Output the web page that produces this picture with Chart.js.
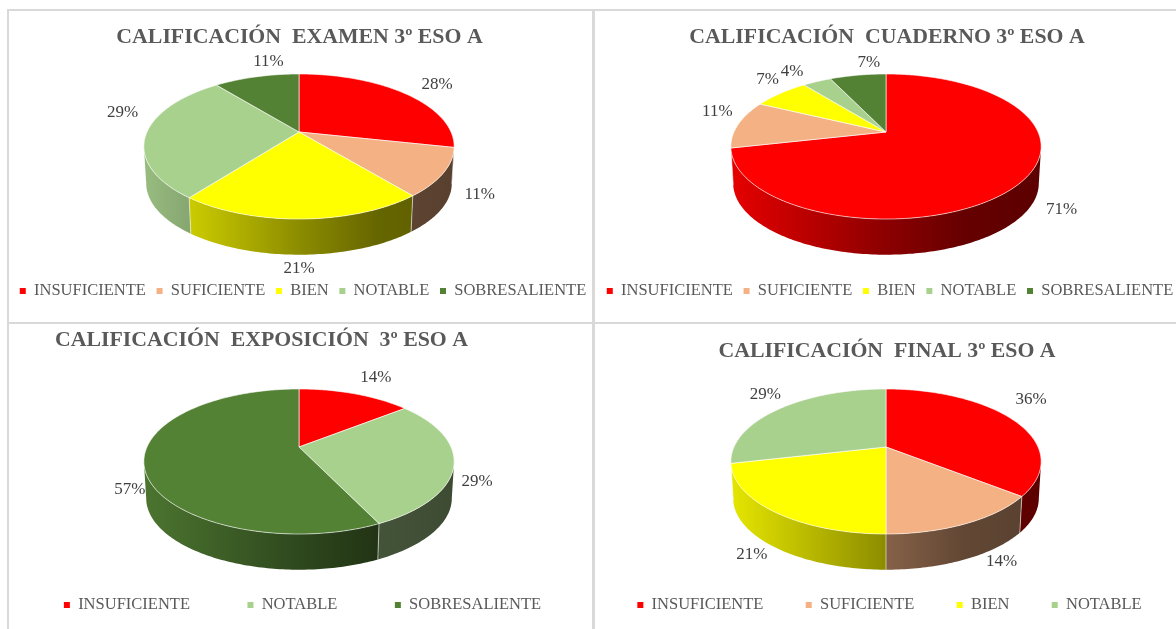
<!DOCTYPE html>
<html>
<head>
<meta charset="utf-8">
<title>Calificación 3º ESO A</title>
<script src="https://cdn.jsdelivr.net/npm/chart.js@4"></script>
<style>
  html, body { margin: 0; padding: 0; background: #fff; overflow: hidden; }
  body { width: 1176px; height: 629px; position: relative; }
  .panel { position: absolute; box-shadow: 0 0 0 2px #d9d9d9; background: #fff; overflow: hidden; }
  canvas { display: block; filter: blur(0.35px); }
</style>
</head>
<body>
<div class="panel" style="left:9px;top:11px;width:583px;height:311px"><canvas id="examen" width="660" height="311"></canvas></div>
<div class="panel" style="left:595px;top:11px;width:581px;height:311px"><canvas id="cuaderno" width="660" height="311"></canvas></div>
<div class="panel" style="left:9px;top:324px;width:583px;height:305px"><canvas id="exposicion" width="660" height="305"></canvas></div>
<div class="panel" style="left:595px;top:324px;width:581px;height:305px"><canvas id="final" width="660" height="305"></canvas></div>
<script>
// ---------- Data ----------
const examenLabels = ['INSUFICIENTE', 'SUFICIENTE', 'BIEN', 'NOTABLE', 'SOBRESALIENTE'];
const examenValues = [28.4, 10.7, 21.3, 28.8, 10.8];
const cuadernoLabels = ['INSUFICIENTE', 'SUFICIENTE', 'BIEN', 'NOTABLE', 'SOBRESALIENTE'];
const cuadernoValues = [71.4, 10.7, 7.1, 3.6, 7.1];
const exposicionLabels = ['INSUFICIENTE', 'NOTABLE', 'SOBRESALIENTE'];
const exposicionValues = [14.3, 28.6, 57.1];
const finalLabels = ['INSUFICIENTE', 'SUFICIENTE', 'BIEN', 'NOTABLE'];
const finalValues = [35.7, 14.3, 21.4, 28.6];

const gradeColors = {
  INSUFICIENTE: '#ff0000',
  SUFICIENTE: '#f4b183',
  BIEN: '#ffff00',
  NOTABLE: '#a9d18e',
  SOBRESALIENTE: '#548235'
};

// ---------- Pie look ----------
const FONT = '"Liberation Serif", serif';
const LEGEND_SIZE = 16.5;
const SQUASH = 0.458;      // height of the disc against its width
const TILT = 0.2;          // perspective, near edge looks bigger
const DEPTH = 37;
const WALL_SHRINK = 0.985;

// wall shading, left to right over the whole pie
const wallStops = [[0, 0.9], [0.5, 0.55], [0.75, 0.4], [1, 0.36]];

function shade(hex, k) {
  const n = parseInt(hex.slice(1), 16);
  const r = Math.round((n >> 16 & 255) * k);
  const g = Math.round((n >> 8 & 255) * k);
  const b = Math.round((n & 255) * k);
  return `rgb(${r},${g},${b})`;
}

// angle on the flat pie -> point on the tilted disc
function rim(arc, a) {
  const den = 1 - TILT * Math.sin(a);
  return {
    x: arc.x + arc.outerRadius * Math.cos(a) / den,
    y: arc.y + arc.outerRadius * SQUASH * Math.sin(a) / den
  };
}

function wallPoint(arc, a) {
  const p = rim(arc, a);
  return {
    x: arc.x + (p.x - arc.x) * WALL_SHRINK,
    y: arc.y + (p.y - arc.y) * WALL_SHRINK + DEPTH
  };
}

function drawWall(ctx, arc) {
  const edge = Math.asin(TILT);
  const from = Math.max(arc.startAngle, edge);
  const to = Math.min(arc.endAngle, Math.PI - edge);
  if (to <= from) return;
  const color = arc.options.backgroundColor;
  const span = arc.outerRadius * 1.02;
  const grad = ctx.createLinearGradient(arc.x - span, 0, arc.x + span, 0);
  wallStops.forEach(s => grad.addColorStop(s[0], shade(color, s[1])));

  const steps = Math.ceil((to - from) * 60);
  ctx.beginPath();
  for (let i = 0; i <= steps; i++) {
    const p = rim(arc, from + (to - from) * i / steps);
    if (i === 0) ctx.moveTo(p.x, p.y); else ctx.lineTo(p.x, p.y);
  }
  for (let i = steps; i >= 0; i--) {
    const p = wallPoint(arc, from + (to - from) * i / steps);
    ctx.lineTo(p.x, p.y);
  }
  ctx.closePath();
  ctx.fillStyle = grad;
  ctx.fill();
  ctx.strokeStyle = 'rgba(255,255,255,0.55)';
  ctx.lineWidth = 1;
  ctx.beginPath();
  if (arc.startAngle > edge) {
    const a = rim(arc, from), b = wallPoint(arc, from);
    ctx.moveTo(a.x, a.y); ctx.lineTo(b.x, b.y);
  }
  ctx.stroke();
}

function drawTop(ctx, arc) {
  const steps = Math.ceil((arc.endAngle - arc.startAngle) * 60);
  ctx.beginPath();
  ctx.moveTo(arc.x, arc.y);
  for (let i = 0; i <= steps; i++) {
    const p = rim(arc, arc.startAngle + (arc.endAngle - arc.startAngle) * i / steps);
    ctx.lineTo(p.x, p.y);
  }
  ctx.closePath();
  ctx.fillStyle = arc.options.backgroundColor;
  ctx.fill();
  ctx.strokeStyle = 'rgba(255,255,255,0.6)';
  ctx.lineWidth = 1;
  ctx.stroke();
}

// ---------- Plugins ----------
const tiltedPie = {
  id: 'tiltedPie',
  afterLayout(chart) {
    const o = chart.options.plugins.tiltedPie;
    // pie centre
    chart.chartArea.left = o.apex[0] - 100;
    chart.chartArea.right = o.apex[0] + 100;
    chart.chartArea.top = o.apex[1] - 100;
    chart.chartArea.bottom = o.apex[1] + 100;
    // title
    const t = chart.titleBlock;
    const tMid = (t.left + t.right) / 2;
    t.left += o.titleAt[0] - tMid;
    t.right += o.titleAt[0] - tMid;
    t.top = o.titleAt[1] - chart.options.plugins.title.font.size * 0.6;
    // legend
    const l = chart.legend;
    const lMid = (l.left + l.right) / 2;
    l.left += o.legendAt[0] - lMid;
    l.right += o.legendAt[0] - lMid;
    l.top = o.legendAt[1] - chart.options.plugins.legend.labels.padding - LEGEND_SIZE / 2;
  },
  beforeDatasetsDraw(chart) {
    const ctx = chart.ctx;
    const arcs = chart.getDatasetMeta(0).data;
    ctx.save();
    arcs.forEach(arc => drawWall(ctx, arc));
    arcs.forEach(arc => drawTop(ctx, arc));
    ctx.restore();
    return false;
  },
  afterDraw(chart) {
    const o = chart.options.plugins.tiltedPie;
    const ctx = chart.ctx;
    const arcs = chart.getDatasetMeta(0).data;
    ctx.save();
    ctx.font = '17px ' + FONT;
    ctx.fillStyle = '#404040';
    ctx.textAlign = 'center';
    ctx.textBaseline = 'middle';
    arcs.forEach((arc, i) => {
      const p = rim(arc, (arc.startAngle + arc.endAngle) / 2);
      const off = o.labelOffsets[i];
      ctx.fillText(Math.round(chart.data.datasets[0].data[i]) + '%', p.x + off[0], p.y + off[1]);
    });
    ctx.restore();
  }
};

// ---------- Charts ----------
function makePie(id, titleText, labels, values, gap, place) {
  new Chart(document.getElementById(id), {
    type: 'pie',
    data: {
      labels,
      datasets: [{
        data: values,
        backgroundColor: labels.map(l => gradeColors[l]),
        borderWidth: 0
      }]
    },
    options: {
      responsive: false,
      animation: false,
      radius: 152,
      plugins: {
        title: {
          display: true,
          text: titleText,
          color: '#595959',
          padding: 0,
          font: { family: FONT, size: 21.8, weight: 'bold' }
        },
        legend: {
          position: 'bottom',
          labels: {
            boxWidth: 6,
            boxHeight: 6,
            padding: gap,
            color: '#595959',
            font: { family: FONT, size: LEGEND_SIZE }
          }
        },
        tooltip: { enabled: false },
        tiltedPie: place
      }
    },
    plugins: [tiltedPie]
  });
}

makePie('examen', 'CALIFICACIÓN  EXAMEN 3º ESO A', examenLabels, examenValues, 10.7, {
  apex: [290, 121], titleAt: [290.5, 26], legendAt: [294, 280],
  labelOffsets: [[33, -9], [36, 22], [-3, 50], [-24, -20], [12, -15]]
});
makePie('cuaderno', 'CALIFICACIÓN  CUADERNO 3º ESO A', cuadernoLabels, cuadernoValues, 10.7, {
  apex: [291, 121], titleAt: [292, 26], legendAt: [295, 280],
  labelOffsets: [[40, 28], [-21, -13], [-13, -14], [-25, -10], [11, -13]]
});
makePie('exposicion', 'CALIFICACIÓN  EXPOSICIÓN  3º ESO A', exposicionLabels, exposicionValues, 57.5, {
  apex: [290, 123], titleAt: [252.5, 16], legendAt: [293.5, 281],
  labelOffsets: [[21, -16], [23, 18], [-14, 26]]
});
makePie('final', 'CALIFICACIÓN  FINAL 3º ESO A', finalLabels, finalValues, 42.3, {
  apex: [291, 123], titleAt: [292, 27], legendAt: [294.5, 281],
  labelOffsets: [[19, -20], [35, 38], [-22, 43], [-15, -14]]
});
</script>
</body>
</html>
